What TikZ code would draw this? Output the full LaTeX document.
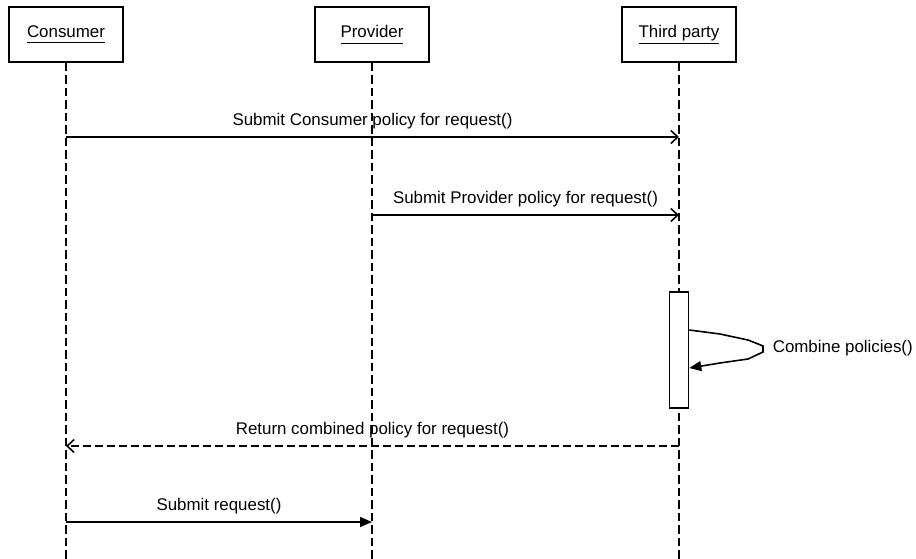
\documentclass[tikz,border=0pt]{standalone}
\usepackage{fontspec}
\setmainfont{Liberation Sans}
\usetikzlibrary{arrows.meta}
\newcommand{\ulname}[1]{\underline{\vphantom{py}#1}}
\begin{document}
\begin{tikzpicture}[x=1pt,y=-1pt,
  font=\fontsize{16.9}{20}\selectfont,
  line width=1.6pt,
  actor/.style={draw, fill=white, minimum width=114pt, minimum height=55pt, inner sep=0pt},
  lifeline/.style={dash pattern=on 8.5pt off 4pt},
  activation/.style={draw, fill=white, minimum width=19pt, minimum height=116pt, inner sep=0pt},
  call/.style={-{Straight Barb[length=7pt,width=13pt,line width=1.6pt]}},
  reply/.style={call, dash pattern=on 8pt off 4pt},
  sync/.style={-{Stealth[length=12pt,width=10pt,inset=0pt]}},
  msg/.style={midway, anchor=base, yshift=12pt, inner sep=0pt},
]
\useasboundingbox (0,0) rectangle (916,558);

% participants
\node[actor] (cons) at (66,34.5) {\ulname{Consumer}};
\node[actor] (prov) at (372,34.5) {\ulname{Provider}};
\node[actor] (third) at (679,34.5) {\ulname{Third party}};

% lifelines
\coordinate (consEnd) at (cons.south |- 0,560);
\coordinate (provEnd) at (prov.south |- 0,560);
\coordinate (thirdEnd) at (third.south |- 0,560);
\draw[lifeline] (cons.south) -- (consEnd);
\draw[lifeline] (prov.south) -- (provEnd);
\draw[lifeline] (third.south) -- (thirdEnd);

% activation of the third party
\node[activation] (act) at (679,350) {};

% message anchors on the lifelines
\coordinate (c1) at (cons.south |- 0,137);
\coordinate (t1) at (third.south |- 0,137);
\coordinate (p2) at (prov.south |- 0,215);
\coordinate (t2) at (third.south |- 0,215);
\coordinate (t3) at (third.south |- 0,446);
\coordinate (c3) at (cons.south |- 0,446);
\coordinate (c4) at (cons.south |- 0,522);
\coordinate (p4) at (prov.south |- 0,522);

\draw[call] (c1) -- (t1) node[msg] {Submit Consumer policy for request()};
\draw[call] (p2) -- (t2) node[msg] {Submit Provider policy for request()};

% self call
\coordinate (s0) at (act.east |- 0,330);
\coordinate (s1) at (act.east |- 0,368);
\draw[sync] (s0) -- (720,334) -- (748,340) -- (763,346) -- (763,352)
  -- (748,359) -- (720,363) -- (s1);
\node[anchor=west, inner sep=0pt] (combine) at (772,348) {Combine policies()};

\draw[reply] (t3) -- (c3) node[msg] {Return combined policy for request()};
\draw[sync] (c4) -- (p4) node[msg] {Submit request()};
\end{tikzpicture}
\end{document}
